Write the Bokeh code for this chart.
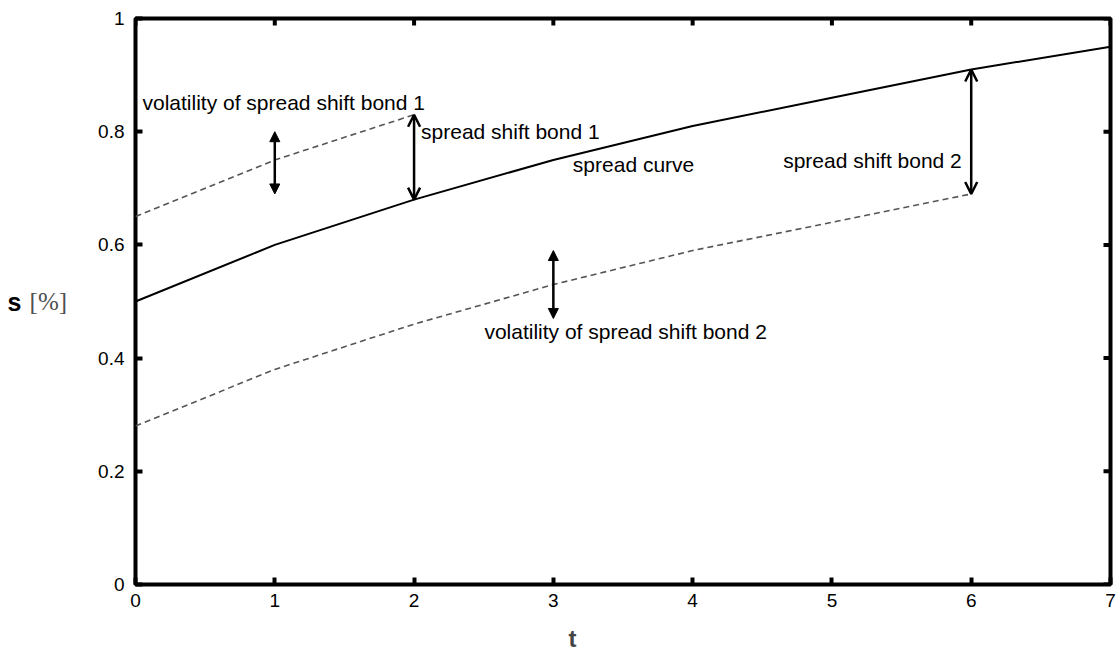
import math
from bokeh.plotting import figure
from bokeh.models import (Range1d, FixedTicker, LinearAxis, Arrow, NormalHead, OpenHead,
                          ColumnDataSource, Title)
from bokeh.core.properties import value
from bokeh.embed import file_html
from bokeh.resources import INLINE

# Data
t_curve = [0, 1, 2, 3, 4, 5, 6, 7]
spread_curve = [0.50, 0.60, 0.68, 0.75, 0.81, 0.86, 0.91, 0.95]
t_bond1 = [0, 1, 2]
bond1 = [0.65, 0.75, 0.83]
t_bond2 = [0, 1, 2, 3, 4, 5, 6]
bond2 = [0.28, 0.38, 0.46, 0.53, 0.59, 0.64, 0.69]

x_ticks = [0, 1, 2, 3, 4, 5, 6, 7]
x_tick_labels = ["0", "1", "2", "3", "4", "5", "6", "7"]
y_ticks = [0, 0.2, 0.4, 0.6, 0.8, 1.0]
y_tick_labels = ["0", "0.2", "0.4", "0.6", "0.8", "1"]

# filled (volatility) arrows and open (shift) arrows
vol_t = [1, 3]
vol_lo = [0.69, 0.47]
vol_hi = [0.80, 0.59]
shift_t = [2, 6]
shift_lo = [0.68, 0.69]
shift_hi = [0.83, 0.91]

label_text = ["volatility of spread shift bond 1", "spread shift bond 1", "spread curve",
              "spread shift bond 2", "volatility of spread shift bond 2"]
label_x = [0.05, 2.05, 3.14, 4.65, 2.505]
label_y = [0.852, 0.80, 0.742, 0.749, 0.447]

FONT = "Liberation Sans"
X0, X1, Y0, Y1 = 0, 7, 0, 1

p = figure(width=1118, height=665, output_backend="svg", toolbar_location=None,
           x_range=Range1d(X0, X1), y_range=Range1d(Y0, Y1),
           min_border_left=135, min_border_right=8, min_border_top=18, min_border_bottom=81)
p.background_fill_color = "white"
p.border_fill_color = "white"
p.grid.visible = False
p.outline_line_color = "black"
p.outline_line_width = 4

def style_axis(ax):
    ax.axis_line_color = None
    ax.major_tick_in = 7
    ax.major_tick_out = 0
    ax.major_tick_line_width = 4
    ax.major_tick_line_color = "black"
    ax.minor_tick_line_color = None
    ax.major_label_text_font = FONT
    ax.major_label_text_font_size = "19px"
    ax.major_label_text_color = "black"

xa = p.xaxis[0]
xa.ticker = FixedTicker(ticks=x_ticks)
xa.major_label_overrides = {t: s for t, s in zip(x_ticks, x_tick_labels)}
style_axis(xa)
xa.major_label_standoff = 9

ya = p.yaxis[0]
ya.ticker = FixedTicker(ticks=y_ticks)
ya.major_label_overrides = {t: s for t, s in zip(y_ticks, y_tick_labels)}
style_axis(ya)
ya.major_label_standoff = 11
ya.axis_label = "[%]"
ya.axis_label_orientation = "horizontal"
ya.axis_label_text_font = "Liberation Serif"
ya.axis_label_text_font_style = "normal"
ya.axis_label_text_font_size = "25px"
ya.axis_label_text_color = "#505050"
ya.axis_label_standoff = 28

# outer left axis only carries the bold "s"
ys = LinearAxis(ticker=FixedTicker(ticks=[]))
ys.axis_line_color = None
ys.major_tick_out = 0
ys.major_tick_in = 0
ys.minor_tick_line_color = None
ys.major_label_standoff = 0
ys.axis_label = "s"
ys.axis_label_orientation = "horizontal"
ys.axis_label_text_font = FONT
ys.axis_label_text_font_style = "bold"
ys.axis_label_text_font_size = "25px"
ys.axis_label_text_color = "black"
ys.axis_label_standoff = 5
p.add_layout(ys, "left")

# x label "t"
p.add_layout(Title(text="t", align="left", offset=433, text_font=FONT,
                   text_font_style="bold", text_font_size="24px", standoff=26), "below")

# mirrored inward ticks on top and right edges
p.scatter(x_ticks, [Y1] * len(x_ticks), marker="dash", size=14, angle=math.pi / 2,
          line_color="black", line_width=4)
p.scatter([X1] * len(y_ticks), y_ticks, marker="dash", size=14,
          line_color="black", line_width=4)

p.line(t_curve, spread_curve, line_color="black", line_width=2)
p.line(t_bond1, bond1, line_color="#555555", line_width=1.6, line_dash="6 4")
p.line(t_bond2, bond2, line_color="#555555", line_width=1.6, line_dash="6 4")

vol_src = ColumnDataSource(dict(x=vol_t, lo=vol_lo, hi=vol_hi))
p.add_layout(Arrow(source=vol_src, x_start="x", y_start="lo", x_end="x", y_end="hi",
                   line_width=2.5, line_color="black",
                   start=NormalHead(size=10, fill_color="black", line_color="black"),
                   end=NormalHead(size=10, fill_color="black", line_color="black")))
shift_src = ColumnDataSource(dict(x=shift_t, lo=shift_lo, hi=shift_hi))
p.add_layout(Arrow(source=shift_src, x_start="x", y_start="lo", x_end="x", y_end="hi",
                   line_width=2.5, line_color="black",
                   start=OpenHead(size=12, line_width=2.5, line_color="black"),
                   end=OpenHead(size=12, line_width=2.5, line_color="black")))

p.text(x=label_x, y=label_y, text=label_text, text_font=value(FONT), text_font_size="21px",
       text_baseline="middle", text_align="left", text_color="black")

open("out.html", "w").write(file_html(p, INLINE))
